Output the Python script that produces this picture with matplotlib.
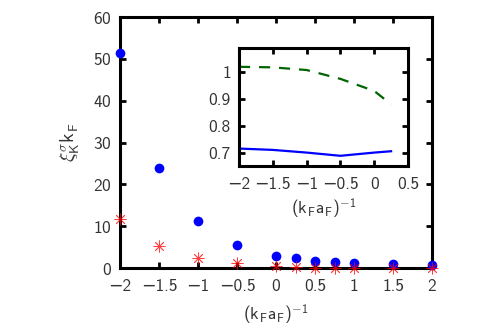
import matplotlib
matplotlib.use("Agg")
import matplotlib.pyplot as plt

plt.rcParams['font.family'] = ['cmss10', 'DejaVu Sans']
plt.rcParams['mathtext.fontset'] = 'custom'
plt.rcParams['mathtext.rm'] = 'cmss10'
plt.rcParams['mathtext.it'] = 'cmss10'
plt.rcParams['mathtext.sf'] = 'cmss10'
plt.rcParams['axes.unicode_minus'] = True
plt.rcParams['axes.formatter.use_mathtext'] = True

x_main = [-2, -1.5, -1, -0.5, 0, 0.25, 0.5, 0.75, 1, 1.5, 2]
xi_blue = [51.5, 24.0, 11.3, 5.6, 3.0, 2.4, 1.7, 1.5, 1.3, 1.0, 0.8]
xi_red = [11.8, 5.3, 2.5, 1.2, 0.6, 0.3, 0.15, 0.1, 0.05, 0.02, 0.01]

x_in = [-2, -1.5, -1, -0.5, 0, 0.25]
ratio_green = [1.02, 1.018, 1.008, 0.975, 0.93, 0.88]
ratio_blue = [0.715, 0.71, 0.70, 0.688, 0.70, 0.705]

tc = '#333333'
fig = plt.figure(figsize=(4.8, 3.36), dpi=100)
ax = fig.add_axes([0.25, 0.202, 0.65, 0.747])
ax.plot(x_main, xi_blue, 'o', color='#0000ff', ms=7, clip_on=False, zorder=3, mew=0)
ax.plot(x_main, xi_red, linestyle='none', color='#ff0000', ms=8.5, clip_on=False, zorder=3,
        marker=(8, 2, 0), mew=0.6, alpha=0.75)
ax.set_xlim(-2, 2)
ax.set_ylim(0, 60)
ax.set_xticks([-2, -1.5, -1, -0.5, 0, 0.5, 1, 1.5, 2])
ax.set_xticklabels(['\u22122', '\u22121.5', '\u22121', '\u22120.5', '0', '0.5', '1', '1.5', '2'])
ax.set_yticks([0, 10, 20, 30, 40, 50, 60])
ax.tick_params(direction='in', top=True, right=True, length=4, width=2, labelsize=12.5, labelcolor=tc)
ax.tick_params(axis='x', pad=8)
ax.tick_params(axis='y', pad=6)
for s in ax.spines.values():
    s.set_linewidth(2.2)
ax.set_xlabel(r'$(\mathrm{k_F a_F})^{-1}$', fontsize=12.5, color=tc, labelpad=6)
ax.set_ylabel(r'$\xi^{\sigma}_{\mathrm{K}}\mathrm{k_F}$', fontsize=14, color=tc, labelpad=8)

ins = fig.add_axes([0.498, 0.506, 0.352, 0.351])
ins.plot(x_in, ratio_green, '--', color='#006400', lw=1.6, dashes=(5, 4))
ins.plot(x_in, ratio_blue, '-', color='#0000ff', lw=1.6)
ins.set_xlim(-2, 0.5)
ins.set_ylim(0.65, 1.09)
ins.set_xticks([-2, -1.5, -1, -0.5, 0, 0.5])
ins.set_xticklabels(['\u22122', '\u22121.5', '\u22121', '\u22120.5', '0', '0.5'])
ins.set_yticks([0.7, 0.8, 0.9, 1.0])
ins.set_yticklabels(['0.7', '0.8', '0.9', '1'])
ins.tick_params(direction='in', top=True, right=True, length=4, width=2, labelsize=12.5, labelcolor=tc)
ins.tick_params(axis='x', pad=8)
ins.tick_params(axis='y', pad=6)
for s in ins.spines.values():
    s.set_linewidth(2.2)
ins.set_xlabel(r'$(\mathrm{k_F a_F})^{-1}$', fontsize=12.5, color=tc, labelpad=3)

fig.savefig('out.png', dpi=100)
